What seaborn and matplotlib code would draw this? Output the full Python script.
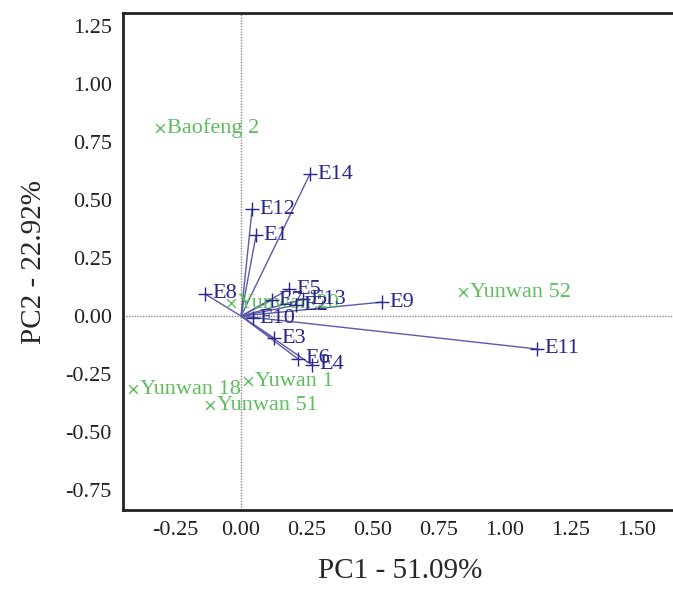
import matplotlib
matplotlib.use("Agg")
import matplotlib.pyplot as plt
import seaborn as sns
import pandas as pd

sns.set_theme(style="white")
plt.rcParams['font.family'] = ['Liberation Serif', 'DejaVu Serif']

# Genotype scores
gen_names = ["Baofeng 2", "Yunwan 52", "Yunwan 18", "Yunwan 51", "Yuwan 1", "Yunwan 20"]
gen_pc1 = [-0.307, 0.84, -0.41, -0.117, 0.027, -0.038]
gen_pc2 = [0.81, 0.103, -0.315, -0.384, -0.28, 0.056]

# Environment vectors
env_names = ["E1", "E2", "E3", "E4", "E5", "E6", "E7", "E8", "E9", "E10", "E11", "E12", "E13", "E14"]
env_pc1 = [0.057, 0.208, 0.125, 0.269, 0.182, 0.216, 0.117, -0.136, 0.534, 0.045, 1.121, 0.042, 0.235, 0.261]
env_pc2 = [0.349, 0.047, -0.095, -0.211, 0.116, -0.185, 0.069, 0.095, 0.06, -0.009, -0.142, 0.461, 0.073, 0.612]

x_ticks = [-0.25, 0.0, 0.25, 0.5, 0.75, 1.0, 1.25, 1.5]
y_ticks = [-0.75, -0.5, -0.25, 0.0, 0.25, 0.5, 0.75, 1.0, 1.25]

GREEN = "#5cbf5c"
BLUE = "#27278c"
LINE = "#5a5aaa"

gen_df = pd.DataFrame({"PC1": gen_pc1, "PC2": gen_pc2, "name": gen_names})
env_df = pd.DataFrame({"PC1": env_pc1, "PC2": env_pc2, "name": env_names})

fig = plt.figure(figsize=(6.73, 5.92), dpi=100)
ax = fig.add_axes([0.1828, 0.1385, 0.8226, 0.8395])

ax.axvline(0, color="#888888", lw=1, ls=(0, (1, 1)), zorder=1)
ax.axhline(0, color="#888888", lw=1, ls=(0, (1, 1)), zorder=1)

for x, y in zip(env_pc1, env_pc2):
    ax.plot([0, x], [0, y], color=LINE, lw=1.0, zorder=2)

sns.scatterplot(data=gen_df, x="PC1", y="PC2", marker="x", s=40, color=GREEN,
                linewidth=1.0, ax=ax, zorder=3)
for n, x, y in zip(gen_names, gen_pc1, gen_pc2):
    ax.annotate(n, (x, y), xytext=(5, 0), textcoords="offset points",
                ha="left", va="center", color=GREEN, fontsize=16, zorder=3)

sns.scatterplot(data=env_df, x="PC1", y="PC2", marker="+", s=110, color=BLUE,
                linewidth=1.0, ax=ax, zorder=4)
for n, x, y in zip(env_names, env_pc1, env_pc2):
    ax.annotate(n, (x, y), xytext=(5, 0), textcoords="offset points",
                ha="left", va="center", color=BLUE, fontsize=16, zorder=5)

ax.set_xlim(-0.447, 1.65)
ax.set_ylim(-0.836, 1.306)
ax.set_xticks(x_ticks)
ax.set_yticks(y_ticks)
ax.set_xticklabels([f"{v:.2f}" for v in x_ticks])
ax.set_yticklabels([f"{v:.2f}" for v in y_ticks])
ax.tick_params(length=0, labelsize=16, colors="#222222", pad=8)
ax.set_xlabel("PC1 - 51.09%", fontsize=21, labelpad=13)
ax.set_ylabel("PC2 - 22.92%", fontsize=21, labelpad=13)

for s in ["left", "bottom", "top"]:
    ax.spines[s].set_visible(True)
    ax.spines[s].set_color("#222222")
    ax.spines[s].set_linewidth(2)
ax.spines["right"].set_visible(False)

fig.savefig("out.png", dpi=100, facecolor="white")
